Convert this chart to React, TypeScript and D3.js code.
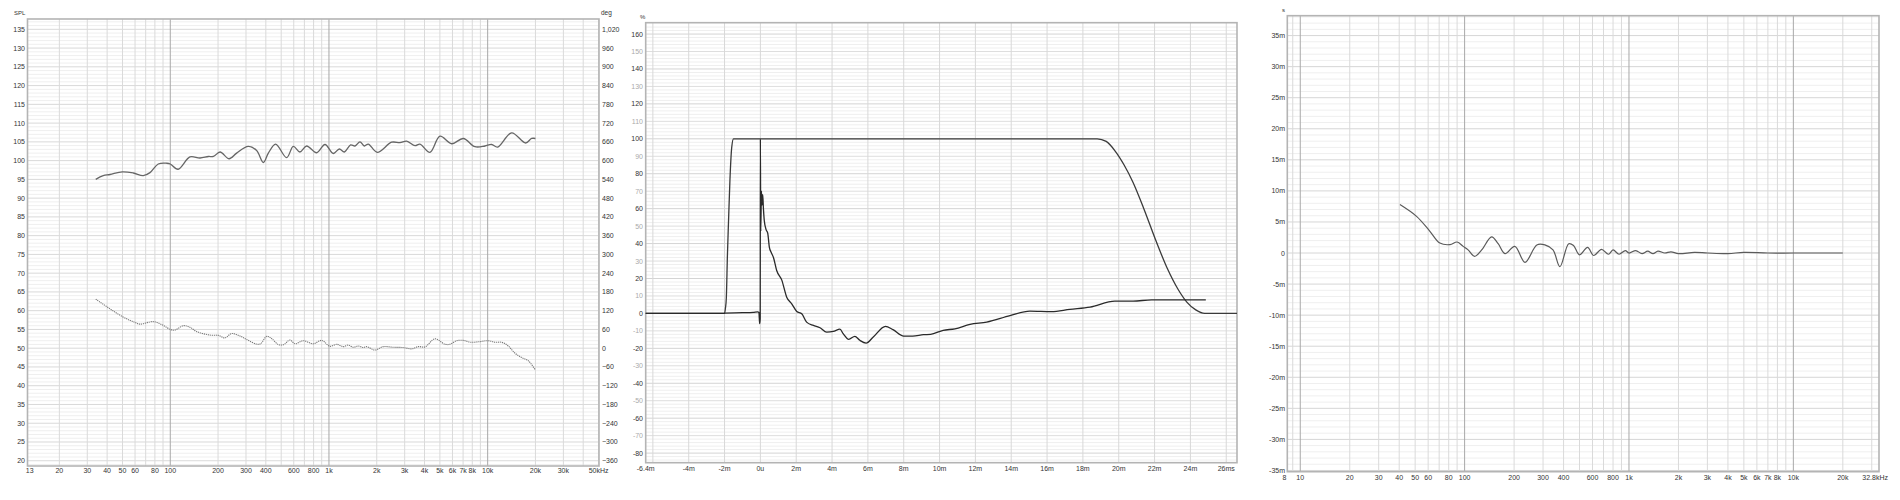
import React from "react";
import * as d3 from "d3";

// ---------- Panel 1: SPL / phase ----------
const splFreq = [33.9, 37.8, 41.7, 49.9, 58.5, 67.6, 74.5, 84, 95, 100, 112, 133, 154, 174, 187, 206, 235, 262, 310, 350, 386, 415, 461, 541, 596, 656, 723, 836, 944, 1065, 1162, 1250, 1369, 1458, 1568, 1670, 1769, 2016, 2483, 2802, 3086, 3483, 3745, 4329, 5005, 5930, 7020, 8320, 9610, 10590, 11550, 14160, 17340, 18920, 20000];
const splVals = [95.0, 96.0, 96.3, 97.0, 96.7, 96.0, 96.8, 99.1, 99.3, 99.1, 97.7, 101.0, 100.7, 101.1, 101.1, 102.3, 100.5, 102.0, 103.8, 102.7, 99.5, 102.0, 104.4, 100.8, 103.8, 102.3, 103.9, 102.1, 104.3, 101.9, 103.1, 102.3, 104.2, 103.9, 105.0, 103.9, 104.4, 102.2, 104.9, 104.8, 105.2, 104.0, 104.4, 102.2, 106.5, 104.5, 105.9, 103.7, 103.9, 104.3, 103.6, 107.4, 104.7, 105.9, 105.9];
const phaseFreq = [33.9, 49.9, 59.6, 64.4, 78.2, 90.4, 100, 107, 121, 133, 147, 178, 201, 221, 244, 275, 303, 350, 371, 405, 435, 479, 516, 568, 611, 689, 797, 899, 1015, 1118, 1231, 1324, 1423, 1530, 1646, 1728, 1949, 2199, 2543, 2940, 3320, 3655, 4026, 4655, 5380, 5787, 6374, 7020, 7825, 8940, 10090, 11120, 12250, 13490, 14860, 16370, 18030, 19860];
const phaseVals = [157, 101, 83, 77, 85, 73, 60, 58, 72, 67, 53, 42, 41, 33, 47, 39, 28, 13, 14, 38, 31, 12, 11, 26, 14, 24, 14, 25, 6, 12.6, 5, 10, 3, 7, 2, 5, -6, 5, 3, 2, -2, 5, 4, 30, 12.6, 12.6, 24, 25, 19, 21, 24, 19, 19, 7, -16, -30, -40, -68];
const p1XTicks = [13, 20, 30, 40, 50, 60, 80, 100, 200, 300, 400, 600, 800, 1000, 2000, 3000, 4000, 5000, 6000, 7000, 8000, 10000, 20000, 30000, 50000];
const p1XLabels = ["13", "20", "30", "40", "50", "60", "80", "100", "200", "300", "400", "600", "800", "1k", "2k", "3k", "4k", "5k", "6k", "7k", "8k", "10k", "20k", "30k", "50kHz"];
const p1SplTicks = d3.range(20, 136, 5);
const p1PhaseTicks = d3.range(-360, 1021, 60);

// ---------- Panel 2: time domain ----------
const impT = [-6.4, -2.05, -2.0, -1.0, -0.4, -0.15, -0.08, -0.04, -0.01, 0.0, 0.02, 0.06, 0.09, 0.13, 0.17, 0.22, 0.32, 0.41, 0.5, 0.6, 0.73, 0.91, 1.19, 1.47, 1.75, 2.03, 2.31, 2.58, 2.96, 3.33, 3.7, 4.07, 4.44, 4.62, 4.93, 5.27, 5.55, 5.9, 6.3, 6.98, 7.4, 8.0, 8.5, 9.1, 9.5, 10.2, 10.86, 11.7, 12.63, 13.93, 15.04, 16.25, 17.27, 18.4, 19.78, 20.8, 21.83, 23.4, 24.86];
const impV = [0, 0, 0.2, 0.4, 0.6, 0.9, 0.5, -5.9, -3, 100, 47, 70, 62, 68, 60, 53, 48, 46, 38, 35, 32, 24.6, 19.2, 9.3, 5.5, 1.1, -0.2, -5, -6.9, -8.2, -10.7, -10.3, -9.0, -11.6, -14.9, -13.1, -15.4, -17, -13.5, -7.4, -9.3, -13, -13, -12.2, -12, -9.7, -8.8, -6.3, -5, -1.3, 1.3, 1.0, 2.3, 3.6, 7.0, 7.0, 7.8, 7.8, 7.8];
const winT = [-6.4, -2.0, -1.95, -1.9, -1.84, -1.78, -1.7, -1.6, -1.5, 18.8, 19.3, 19.8, 20.3, 20.8, 21.4, 22.1, 22.7, 23.3, 23.8, 24.3, 24.8, 26.6];
const winV = [0, 0, 3, 9, 33, 52, 76, 95, 100, 100, 98.5, 93, 85, 75, 60, 41, 26, 14, 6.5, 2, 0, 0];
const p2XTicks = [-6.4, -4, -2, 0, 2, 4, 6, 8, 10, 12, 14, 16, 18, 20, 22, 24, 26];
const p2XLabels = ["-6.4m", "-4m", "-2m", "0u", "2m", "4m", "6m", "8m", "10m", "12m", "14m", "16m", "18m", "20m", "22m", "24m", "26ms"];
const p2YTicks = d3.range(-80, 161, 10);

// ---------- Panel 3: group delay ----------
const gdFreq = [40.4, 51, 61.5, 70.7, 81.5, 90, 98, 105, 115, 127, 146, 160, 176, 202, 233, 275, 308, 345, 380, 430, 460, 500, 560, 610, 680, 750, 800, 870, 950, 1000, 1100, 1200, 1300, 1400, 1500, 1650, 1800, 2000, 2500, 3000, 4000, 5000, 7000, 10000, 20000];
const gdVals = [7.8, 5.9, 3.5, 1.6, 1.35, 1.77, 1.07, 0.5, -0.55, 0.5, 2.6, 1.5, -0.1, 1.07, -1.5, 1.3, 1.3, 0.5, -2.2, 1.5, 1.2, -0.3, 0.9, -0.4, 0.6, -0.2, 0.5, -0.2, 0.4, 0.0, 0.4, -0.1, 0.3, -0.1, 0.3, 0.0, 0.2, -0.1, 0.1, 0.0, -0.1, 0.1, 0.0, 0.0, 0.0];
const p3XTicks = [8, 10, 20, 30, 40, 50, 60, 80, 100, 200, 300, 400, 600, 800, 1000, 2000, 3000, 4000, 5000, 6000, 7000, 8000, 10000, 20000, 32800];
const p3XLabels = ["8", "10", "20", "30", "40", "50", "60", "80", "100", "200", "300", "400", "600", "800", "1k", "2k", "3k", "4k", "5k", "6k", "7k", "8k", "10k", "20k", "32.8kHz"];
const p3YTicks = d3.range(-35, 36, 5);

const FONT = "'Liberation Sans', Arial, sans-serif";
const FS = 7;

function logGrid(lo: number, hi: number): number[] {
  const out: number[] = [];
  for (let dec = 1; dec <= 100000; dec *= 10) {
    for (let m = 1; m <= 9; m++) {
      const v = m * dec;
      if (v > lo * 1.001 && v < hi * 0.999) out.push(v);
    }
  }
  return out;
}

function App() {
  // Panel 1 scales
  const p1 = { x0: 27.5, x1: 599, y0: 19, y1: 466 };
  const x1s = d3.scaleLog().domain([12.6, 50300]).range([p1.x0, p1.x1]);
  const y1s = d3.scaleLinear().domain([18.6, 137.75]).range([p1.y1, p1.y0]);
  const phToSpl = (p: number) => (p + 360) / 12 + 20;

  // Panel 2
  const p2 = { x0: 645.7, x1: 1237, y0: 22.7, y1: 462.7 };
  const x2s = d3.scaleLinear().domain([-6.4, 26.6]).range([p2.x0, p2.x1]);
  const y2s = d3.scaleLinear().domain([-85.5, 166.5]).range([p2.y1, p2.y0]);

  // Panel 3
  const p3 = { x0: 1287.3, x1: 1879, y0: 15.7, y1: 471.7 };
  const x3s = d3.scaleLog().domain([8.34, 33200]).range([p3.x0, p3.x1]);
  const y3s = d3.scaleLinear().domain([-35.2, 38.2]).range([p3.y1, p3.y0]);

  const smooth = d3.line<[number, number]>().curve(d3.curveCatmullRom.alpha(0.5));
  const mono = d3.line<[number, number]>().curve(d3.curveMonotoneX);

  const splPath = smooth(splFreq.map((f, i) => [x1s(f), y1s(splVals[i])]));
  const phPath = smooth(phaseFreq.map((f, i) => [x1s(f), y1s(phToSpl(phaseVals[i]))]));
  const impPath = mono(impT.map((t, i) => [x2s(t), y2s(impV[i])]));
  const winPath = mono(winT.map((t, i) => [x2s(t), y2s(winV[i])]));
  const gdPath = smooth(gdFreq.map((f, i) => [x3s(f), y3s(gdVals[i])]));

  const isDecade = (v: number) => Math.abs(Math.log10(v) - Math.round(Math.log10(v))) < 1e-6;

  const frame = (p: { x0: number; x1: number; y0: number; y1: number }) => (
    <rect x={p.x0} y={p.y0} width={p.x1 - p.x0} height={p.y1 - p.y0} fill="none" stroke="#b4b4b4" strokeWidth={1.6} />
  );

  // grids
  const p1V = logGrid(12.6, 50300);
  const p1HMinor = d3.range(19, 138, 1);
  const p2HMinor = d3.range(-84, 166, 2);
  const p2V = d3.range(-6, 27, 2);
  const p3V = logGrid(8.34, 33200);
  const p3HMinor = d3.range(-35, 39, 1);

  return (
    <svg width={1900} height={500} style={{ display: "block", position: "absolute", left: 0, top: 0, background: "#fff" }} fontFamily={FONT}>
      <rect x={0} y={0} width={1900} height={500} fill="#fff" />
      {/* ---------------- Panel 1 ---------------- */}
      <g>
        {p1HMinor.map((v) => (
          <line key={"h" + v} x1={p1.x0} x2={p1.x1} y1={y1s(v)} y2={y1s(v)} stroke={v % 5 === 0 ? "#d9d9d9" : "#efefef"} strokeWidth={1} />
        ))}
        {p1V.map((v) => (
          <line key={"v" + v} x1={x1s(v)} x2={x1s(v)} y1={p1.y0} y2={p1.y1} stroke={isDecade(v) ? "#a8a8a8" : "#dadada"} strokeWidth={1} />
        ))}
        {frame(p1)}
        <path d={phPath || ""} fill="none" stroke="#787878" strokeWidth={1.1} strokeDasharray="1.2,0.8" />
        <path d={splPath || ""} fill="none" stroke="#666" strokeWidth={1.3} />
        <text x={14} y={15} fontSize={6} fill="#333">SPL</text>
        {p1SplTicks.map((v) => (
          <text key={"yl" + v} x={25} y={y1s(v) + 2.5} fontSize={FS} textAnchor="end" fill="#333">{v}</text>
        ))}
        <text x={601} y={15} fontSize={6.5} fill="#333">deg</text>
        {p1PhaseTicks.map((v) => (
          <text key={"yr" + v} x={602} y={y1s(phToSpl(v)) + 2.5} fontSize={FS} textAnchor="start" fill="#333">{d3.format(",")(v)}</text>
        ))}
        {p1XTicks.map((v, i) => (
          <text key={"xl" + v} x={x1s(v)} y={473} fontSize={FS} textAnchor="middle" fill="#333">{p1XLabels[i]}</text>
        ))}
      </g>
      {/* ---------------- Panel 2 ---------------- */}
      <g>
        {p2HMinor.map((v) => (
          <line key={"h" + v} x1={p2.x0} x2={p2.x1} y1={y2s(v)} y2={y2s(v)} stroke={v % 20 === 0 ? "#d4d4d4" : v % 10 === 0 ? "#dedede" : "#efefef"} strokeWidth={1} />
        ))}
        {p2V.map((v) => (
          <line key={"v" + v} x1={x2s(v)} x2={x2s(v)} y1={p2.y0} y2={p2.y1} stroke="#d8d8d8" strokeWidth={1} />
        ))}
        {frame(p2)}
        <path d={winPath || ""} fill="none" stroke="#3a3a3a" strokeWidth={1.3} />
        <path d={impPath || ""} fill="none" stroke="#2a2a2a" strokeWidth={1.3} />
        <text x={640} y={19} fontSize={6} fill="#333">%</text>
        {p2YTicks.map((v) => (
          <text key={"yl" + v} x={643} y={y2s(v) + 2.5} fontSize={FS} textAnchor="end" fill={v % 20 === 0 ? "#333" : "#aaa"}>{v}</text>
        ))}
        {p2XTicks.map((v, i) => (
          <text key={"xl" + v} x={x2s(v)} y={470.5} fontSize={FS} textAnchor="middle" fill="#333">{p2XLabels[i]}</text>
        ))}
      </g>
      {/* ---------------- Panel 3 ---------------- */}
      <g>
        {p3HMinor.map((v) => (
          <line key={"h" + v} x1={p3.x0} x2={p3.x1} y1={y3s(v)} y2={y3s(v)} stroke={v % 5 === 0 ? "#d6d6d6" : "#efefef"} strokeWidth={1} />
        ))}
        {p3V.map((v) => (
          <line key={"v" + v} x1={x3s(v)} x2={x3s(v)} y1={p3.y0} y2={p3.y1} stroke={isDecade(v) ? "#a8a8a8" : "#dadada"} strokeWidth={1} />
        ))}
        {frame(p3)}
        <path d={gdPath || ""} fill="none" stroke="#5a5a5a" strokeWidth={1.2} />
        <text x={1282} y={12} fontSize={6} fill="#333">s</text>
        {p3YTicks.map((v) => (
          <text key={"yl" + v} x={1285} y={y3s(v) + 2.5} fontSize={FS} textAnchor="end" fill="#333">{v === 0 ? "0" : v + "m"}</text>
        ))}
        {p3XTicks.map((v, i) => (
          <text key={"xl" + v} x={i === p3XTicks.length - 1 ? x3s(v) - 3 : x3s(v)} y={480} fontSize={FS} textAnchor="middle" fill="#333">{p3XLabels[i]}</text>
        ))}
      </g>
    </svg>
  );
}

export default App;
